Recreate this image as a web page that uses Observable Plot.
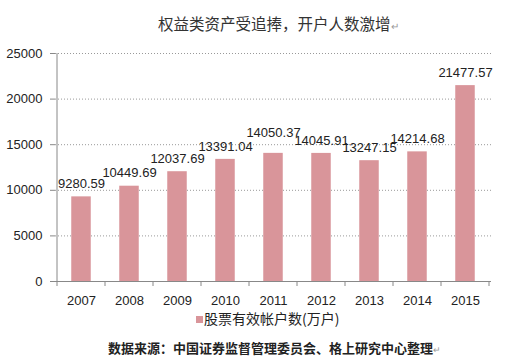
<!DOCTYPE html>
<html><head><meta charset="utf-8">
<script src="https://cdn.jsdelivr.net/npm/d3@7"></script>
<script src="https://cdn.jsdelivr.net/npm/@observablehq/plot@0.6"></script>
<style>body{margin:0;background:#fff}</style>
</head><body><div id="chart"></div>
<script>
const years = ["2007","2008","2009","2010","2011","2012","2013","2014","2015"];
const accounts = [9280.59, 10449.69, 12037.69, 13391.04, 14050.37, 14045.91, 13247.15, 14214.68, 21477.57];
const yTicks = [0, 5000, 10000, 15000, 20000, 25000];
const title = "权益类资产受追捧，开户人数激增";
const seriesName = "股票有效帐户数(万户)";
const source = "数据来源：中国证券监督管理委员会、格上研究中心整理";

const data = years.map((y, i) => ({year: y, value: accounts[i]}));
const barColor = "#d9959a";
const cjk = "'Noto Sans CJK SC', sans-serif";
const raised = new Set(["2011"]);

const plot = Plot.plot({
  width: 512, height: 363,
  marginTop: 53, marginBottom: 82, marginLeft: 55, marginRight: 21,
  style: {fontFamily: "'Liberation Sans', Arial, sans-serif", fontSize: "13px", color: "#222", background: "#fff", overflow: "visible"},
  x: {domain: years, padding: 0, label: null},
  y: {domain: [0, 25000], label: null},
  marks: [
    Plot.gridY(yTicks.filter(d => d > 0), {stroke: "#999", strokeOpacity: 1, strokeDasharray: "1,2"}),
    Plot.barY(data, {x: "year", y: "value", fill: barColor, insetLeft: 14.25, insetRight: 14.25}),
    Plot.text(data.filter(d => !raised.has(d.year)), {x: "year", y: "value", text: d => d.value.toFixed(2), dy: -13, fontSize: 13, fill: "#222"}),
    Plot.text(data.filter(d => raised.has(d.year)), {x: "year", y: "value", text: d => d.value.toFixed(2), dy: -21, fontSize: 13, fill: "#222"}),
    Plot.axisY({ticks: yTicks, tickFormat: d => String(d), tickSize: 5, tickPadding: 8, fontSize: 13, stroke: "#888", fill: "#222", label: null}),
    Plot.axisX({tickSize: 0, tickPadding: 14, fontSize: 13, fill: "#222", label: null}),
    Plot.ruleY([0], {stroke: "#888"})
  ]
});
document.getElementById("chart").appendChild(plot);

const svg = d3.select(plot);
const xs = plot.scale("x");
const ys = plot.scale("y");
const y0 = ys.apply(0), yTop = ys.apply(25000);
const bw = xs.bandwidth;
// y axis line
svg.append("line").attr("x1", xs.apply(years[0])).attr("x2", xs.apply(years[0]))
  .attr("y1", yTop).attr("y2", y0 + 5).attr("stroke", "#888");
// category boundary ticks
const bounds = years.map(y => xs.apply(y) + bw);
svg.append("g").selectAll("line").data(bounds).join("line")
  .attr("x1", d => d).attr("x2", d => d).attr("y1", y0).attr("y2", y0 + 5).attr("stroke", "#888");

// title
const t = svg.append("text").attr("x", 158).attr("y", 25).attr("dy", "0.35em").attr("text-anchor", "start")
  .attr("font-family", cjk).attr("font-size", 15.5).attr("fill", "#333");
t.append("tspan").text(title);
t.append("tspan").attr("font-size", 10).attr("fill", "#999").text("↵");

// legend
svg.append("rect").attr("x", 196).attr("y", 316).attr("width", 7).attr("height", 7).attr("fill", barColor);
svg.append("text").attr("x", 204).attr("y", 319).attr("dy", "0.35em").attr("text-anchor", "start")
  .attr("font-family", cjk).attr("font-size", 14).attr("fill", "#222").text(seriesName);

// source
const s = svg.append("text").attr("x", 108).attr("y", 348).attr("dy", "0.35em").attr("text-anchor", "start")
  .attr("font-family", cjk).attr("font-size", 13).attr("font-weight", "bold").attr("fill", "#222");
s.append("tspan").text(source);
s.append("tspan").attr("font-size", 9).attr("font-weight", "normal").attr("fill", "#999").text("↵");
</script>
</body></html>
